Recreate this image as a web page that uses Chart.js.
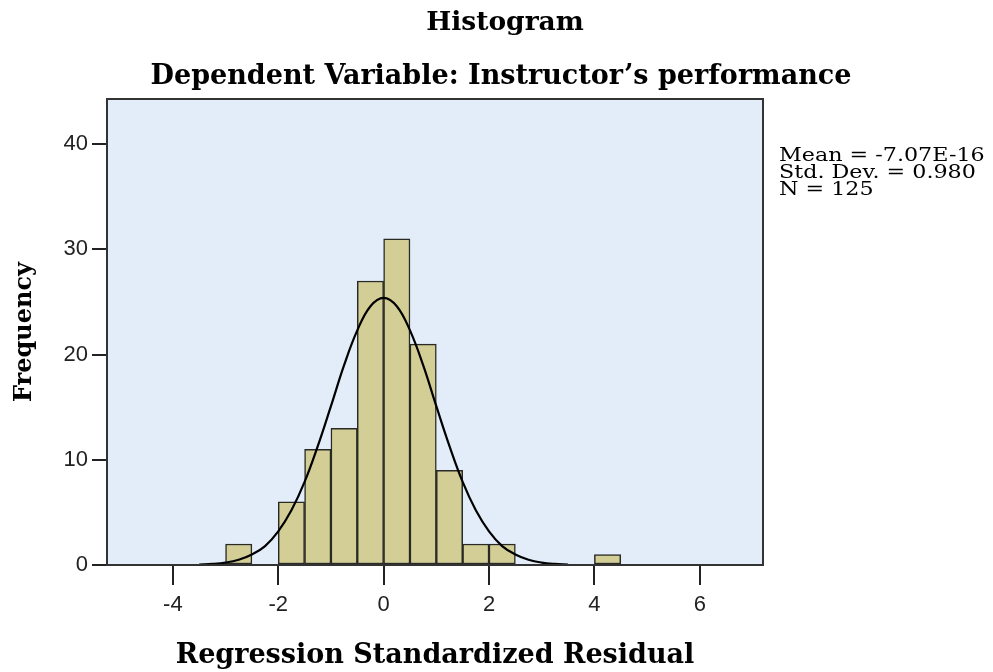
<!DOCTYPE html>
<html>
<head>
<meta charset="utf-8">
<script src="https://cdn.jsdelivr.net/npm/chart.js@4.4.1/dist/chart.umd.min.js"></script>
<style>
  html, body { margin: 0; padding: 0; background: #ffffff; }
  #wrap { width: 993px; height: 672px; }
</style>
</head>
<body>
<div id="wrap"><canvas id="histChart" width="993" height="672"></canvas></div>
<script>
// 히스토그램 데이터 (구간 시작값, 빈도)
const binStarts = [-3.0, -2.0, -1.5, -1.0, -0.5, 0.0, 0.5, 1.0, 1.5, 2.0, 4.0];
const binCounts = [2, 6, 11, 13, 27, 31, 21, 9, 2, 2, 1];
const binWidth = 0.5;

// 정규곡선
const curveX = [-3.5, -3.25, -3.0, -2.75, -2.5, -2.25, -2.0, -1.75, -1.5, -1.25, -1.0, -0.75, -0.5, -0.25, 0.0,
                0.25, 0.5, 0.75, 1.0, 1.25, 1.5, 1.75, 2.0, 2.25, 2.5, 2.75, 3.0, 3.25, 3.5];
const curveY = [0.04, 0.1, 0.23, 0.5, 1.0, 1.8, 3.2, 5.2, 7.9, 11.3, 15.1, 19.0, 22.3, 24.6, 25.4,
                24.6, 22.3, 19.0, 15.1, 11.3, 7.9, 5.2, 3.2, 1.8, 1.0, 0.5, 0.23, 0.1, 0.04];

const xTicks = [-4, -2, 0, 2, 4, 6];
const yTicks = [0, 10, 20, 30, 40];

const titleText = 'Histogram';
const subtitleText = 'Dependent Variable: Instructor\u2019s performance';
const statsLines = ['Mean = -7.07E-16', 'Std. Dev. = 0.980', 'N = 125'];

// 플롯 배경 + 테두리, 제목, 통계 텍스트
const spssDecor = {
    id: 'spssDecor',
    beforeDraw(chart) {
        const { ctx, chartArea: a } = chart;
        ctx.save();
        ctx.fillStyle = '#e2edf9';
        ctx.fillRect(a.left, a.top, a.right - a.left, a.bottom - a.top);
        ctx.restore();
    },
    afterDraw(chart) {
        const { ctx, chartArea: a } = chart;
        ctx.save();
        ctx.strokeStyle = '#333333';
        ctx.lineWidth = 2;
        ctx.strokeRect(a.left, a.top, a.right - a.left, a.bottom - a.top);

        ctx.fillStyle = '#000000';
        ctx.textAlign = 'center';
        ctx.textBaseline = 'alphabetic';
        ctx.font = 'bold 26.5px "DejaVu Serif"';
        ctx.fillText(titleText, 505, 30);
        ctx.font = 'bold 27px "DejaVu Serif"';
        ctx.fillText(subtitleText, 501, 84);

        // 통계 텍스트 (원본은 글자 폭이 넓음)
        ctx.textAlign = 'left';
        ctx.font = '19px "DejaVu Serif"';
        ctx.translate(779, 0);
        ctx.scale(1.17, 1);
        statsLines.forEach((t, i) => ctx.fillText(t, 0, 161 + i * 17));
        ctx.restore();
    }
};

const ctx = document.getElementById('histChart');
new Chart(ctx, {
    type: 'bar',
    data: {
        datasets: [
            {
                type: 'line',
                label: 'Normal',
                data: curveX.map((x, i) => ({ x: x, y: curveY[i] })),
                borderColor: '#000000',
                borderWidth: 2.2,
                pointRadius: 0,
                fill: false,
                tension: 0.4,
                order: 0
            },
            {
                type: 'bar',
                label: 'Frequency',
                data: binStarts.map((s, i) => ({ x: s + binWidth / 2, y: binCounts[i] })),
                backgroundColor: '#d3ce96',
                borderColor: '#2a2a24',
                borderWidth: 1.5,
                borderSkipped: false,
                barPercentage: 1.0,
                categoryPercentage: 1.0,
                order: 1
            }
        ]
    },
    options: {
        responsive: false,
        animation: false,
        devicePixelRatio: 1,
        layout: { padding: { top: 99, right: 230, left: 0, bottom: 0 } },
        plugins: {
            legend: { display: false },
            tooltip: { enabled: false }
        },
        scales: {
            x: {
                type: 'linear',
                min: -5.25,
                max: 7.2,
                offset: false,
                afterBuildTicks: (scale) => { scale.ticks = xTicks.map(v => ({ value: v })); },
                afterFit: (scale) => { scale.height = 107; },
                grid: { display: true, drawOnChartArea: false, drawTicks: true, tickLength: 20, tickColor: '#222222', lineWidth: 2, offset: false },
                border: { display: true, color: '#111111', width: 2 },
                ticks: { color: '#222222', font: { family: 'Liberation Sans', size: 22 }, padding: 7, maxRotation: 0 },
                title: {
                    display: true,
                    text: 'Regression Standardized Residual',
                    color: '#000000',
                    font: { family: 'DejaVu Serif', size: 27, weight: 'bold' },
                    padding: 0
                }
            },
            y: {
                type: 'linear',
                min: 0,
                max: 44.3,
                afterBuildTicks: (scale) => { scale.ticks = yTicks.map(v => ({ value: v })); },
                afterFit: (scale) => { scale.width = 107; },
                grid: { display: true, drawOnChartArea: false, drawTicks: true, tickLength: 15, tickColor: '#222222', lineWidth: 2 },
                border: { display: true, color: '#111111', width: 2 },
                ticks: { color: '#222222', font: { family: 'Liberation Sans', size: 22 }, padding: 4 },
                title: {
                    display: true,
                    text: 'Frequency',
                    color: '#000000',
                    font: { family: 'DejaVu Serif', size: 24, weight: 'bold' },
                    padding: { top: 10, bottom: 0 }
                }
            }
        }
    },
    plugins: [spssDecor]
});
</script>
</body>
</html>
